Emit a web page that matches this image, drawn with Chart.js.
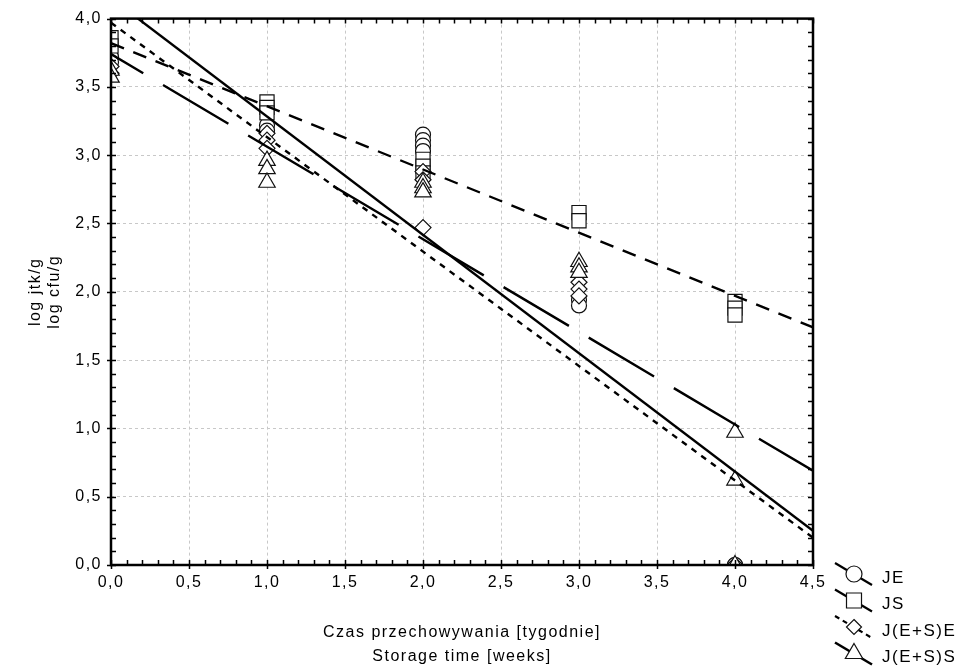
<!DOCTYPE html>
<html>
<head>
<meta charset="utf-8">
<script src="https://cdn.jsdelivr.net/npm/chart.js@4/dist/chart.umd.min.js"></script>
<style>
  html, body { margin: 0; padding: 0; background: #fff; }
</style>
</head>
<body>
<canvas id="chart" width="964" height="669"></canvas>
<script>
// series names
var seriesNames = ['JE', 'JS', 'J(E+S)E', 'J(E+S)S'];

// measured points (storage time in weeks, log cfu/g)
var jeWeeks = [0, 0, 1, 1, 2, 2, 2, 2, 3, 3, 4, 4];
var jeLog   = [3.72, 3.68, 3.22, 3.18, 3.15, 3.11, 3.07, 3.03, 1.94, 1.90, 0, 0];

var jsWeeks = [0, 0, 1, 1, 1, 2, 2, 2, 3, 3, 4, 4, 4];
var jsLog   = [3.86, 3.80, 3.39, 3.35, 3.31, 2.97, 2.92, 2.87, 2.58, 2.52, 1.93, 1.88, 1.83];

var jeseWeeks = [0, 0, 1, 1, 1, 2, 2, 2, 3, 3, 3, 4];
var jeseLog   = [3.65, 3.60, 3.16, 3.11, 3.05, 2.88, 2.82, 2.47, 2.07, 2.02, 1.97, 0];

var jessWeeks = [0, 0, 1, 1, 1, 2, 2, 2, 3, 3, 3, 4, 4, 4];
var jessLog   = [3.62, 3.57, 2.96, 2.90, 2.80, 2.80, 2.76, 2.73, 2.22, 2.18, 2.14, 0.97, 0.62, 0];

// fitted lines, values at the ends of the time axis
var fitWeeks = [0, 4.5];
var jeFit   = [3.74, 0.69];
var jsFit   = [3.82, 1.74];
var jeseFit = [3.97, 0.20];
var jessFit = [4.15, 0.25];

// axis ticks
var xTicksStep = 0.5;
var yTicksStep = 0.5;

function pts(xs, ys) {
    return xs.map(function(x, i) { return {x: x, y: ys[i]}; });
}

function fitLine(ys, dash, offset) {
    return {
        type: 'line',
        data: pts(fitWeeks, ys),
        borderColor: '#000',
        borderWidth: 2.4,
        borderDash: dash,
        borderDashOffset: offset || 0,
        pointRadius: 0,
        fill: false,
        clip: 0
    };
}

function markers(xs, ys, style, r) {
    return {
        type: 'scatter',
        data: pts(xs, ys),
        pointStyle: style,
        pointRadius: r,
        pointBorderColor: '#111',
        pointBackgroundColor: '#fff',
        pointBorderWidth: 1.2,
        showLine: false,
        clip: 0
    };
}

var font = "'Liberation Sans', Arial, sans-serif";

function drawMark(ctx, style, x, y, r) {
    ctx.beginPath();
    if (style === 'circle') {
        ctx.arc(x, y, r, 0, Math.PI * 2);
    } else if (style === 'rect') {
        ctx.rect(x - r, y - r, 2 * r, 2 * r);
    } else if (style === 'rectRot') {
        ctx.moveTo(x, y - r); ctx.lineTo(x + r, y); ctx.lineTo(x, y + r); ctx.lineTo(x - r, y);
        ctx.closePath();
    } else {
        ctx.moveTo(x, y - r);
        ctx.lineTo(x + r * 0.866, y + r / 2);
        ctx.lineTo(x - r * 0.866, y + r / 2);
        ctx.closePath();
    }
    ctx.fill();
    ctx.stroke();
}

var spacing = {
    id: 'spacing',
    beforeDraw: function(chart) { chart.ctx.letterSpacing = '1.5px'; }
};

var frame = {
    id: 'frame',
    afterDraw: function(chart) {
        var ctx = chart.ctx, a = chart.chartArea;
        var xs = chart.scales.x, ys = chart.scales.y;
        ctx.save();
        ctx.strokeStyle = '#000';
        ctx.lineWidth = 1.5;
        ctx.beginPath();
        var i, p;
        for (i = 0; i <= 45; i++) {
            p = Math.round(xs.getPixelForValue(i / 10)) + 0.5;
            ctx.moveTo(p, a.bottom); ctx.lineTo(p, a.bottom - 5);
            ctx.moveTo(p, a.top); ctx.lineTo(p, a.top + 5);
            if (i % 5 === 0) { ctx.moveTo(p, a.bottom); ctx.lineTo(p, a.bottom + 4); }
        }
        for (i = 0; i <= 40; i++) {
            p = Math.round(ys.getPixelForValue(i / 10)) + 0.5;
            ctx.moveTo(a.left, p); ctx.lineTo(a.left + 5, p);
            ctx.moveTo(a.right, p); ctx.lineTo(a.right - 5, p);
            if (i % 5 === 0) { ctx.moveTo(a.left, p); ctx.lineTo(a.left - 4, p); }
        }
        ctx.stroke();
        ctx.lineWidth = 2.5;
        ctx.strokeRect(a.left, a.top, a.right - a.left, a.bottom - a.top);

        // legend
        var rows = [
            {dash: [], style: 'circle', r: 8, w: 2.2},
            {dash: [], style: 'rect', r: 7.5, w: 2.2},
            {dash: [5, 4], style: 'rectRot', r: 7.5, w: 2.2},
            {dash: [], style: 'triangle', r: 10, w: 2.6}
        ];
        ctx.font = '17px ' + font;
        ctx.textBaseline = 'middle';
        ctx.textAlign = 'left';
        rows.forEach(function(row, k) {
            var cy = 574 + k * 26.5;
            ctx.setLineDash(row.dash);
            ctx.lineWidth = row.w;
            ctx.strokeStyle = '#000';
            ctx.beginPath();
            ctx.moveTo(835, cy - 11); ctx.lineTo(872, cy + 11);
            ctx.stroke();
            ctx.setLineDash([]);
            ctx.lineWidth = 1.2;
            ctx.fillStyle = '#fff';
            ctx.strokeStyle = '#111';
            drawMark(ctx, row.style, 854, cy, row.r);
            ctx.fillStyle = '#000';
            ctx.fillText(seriesNames[k], 882, cy + 4);
        });
        ctx.restore();
    }
};

function label(v) {
    return v.toFixed(1).replace('.', ',');
}

new Chart(document.getElementById('chart'), {
    data: {
        datasets: [
            fitLine(jeFit, [76, 23], 38.5),
            fitLine(jsFit, [14, 10]),
            fitLine(jeseFit, [6, 6]),
            fitLine(jessFit, []),
            markers(jessWeeks, jessLog, 'triangle', 9.5),
            markers(jeseWeeks, jeseLog, 'rectRot', 8),
            markers(jsWeeks, jsLog, 'rect', 10),
            markers(jeWeeks, jeLog, 'circle', 7.5)
        ]
    },
    options: {
        responsive: false,
        animation: false,
        devicePixelRatio: 1,
        layout: { padding: { top: 14, right: 151, bottom: 0, left: 0 } },
        plugins: { legend: { display: false }, tooltip: { enabled: false } },
        scales: {
            x: {
                type: 'linear',
                min: 0,
                max: 4.5,
                afterFit: function(s) { s.height = 104; },
                ticks: {
                    stepSize: xTicksStep,
                    callback: label,
                    color: '#000',
                    font: { family: font, size: 16 },
                    padding: 8,
                    maxRotation: 0,
                    autoSkip: false
                },
                grid: { color: '#c8c8c8', lineWidth: 1, drawTicks: false },
                border: { display: false, dash: [3, 3] },
                title: {
                    display: true,
                    text: ['Czas przechowywania [tygodnie]', 'Storage time [weeks]'],
                    color: '#000',
                    font: { family: font, size: 16, lineHeight: '24px' },
                    padding: 0
                }
            },
            y: {
                type: 'linear',
                min: 0,
                max: 4,
                afterFit: function(s) { s.width = 111; },
                ticks: {
                    stepSize: yTicksStep,
                    callback: label,
                    color: '#000',
                    font: { family: font, size: 16 },
                    padding: 9
                },
                grid: { color: '#c8c8c8', lineWidth: 1, drawTicks: false },
                border: { display: false, dash: [3, 3] },
                title: {
                    display: true,
                    text: ['log jtk/g', 'log cfu/g'],
                    color: '#000',
                    font: { family: font, size: 16, lineHeight: '19px' },
                    padding: { top: 26, bottom: 0 }
                }
            }
        }
    },
    plugins: [spacing, frame]
});
</script>
</body>
</html>
